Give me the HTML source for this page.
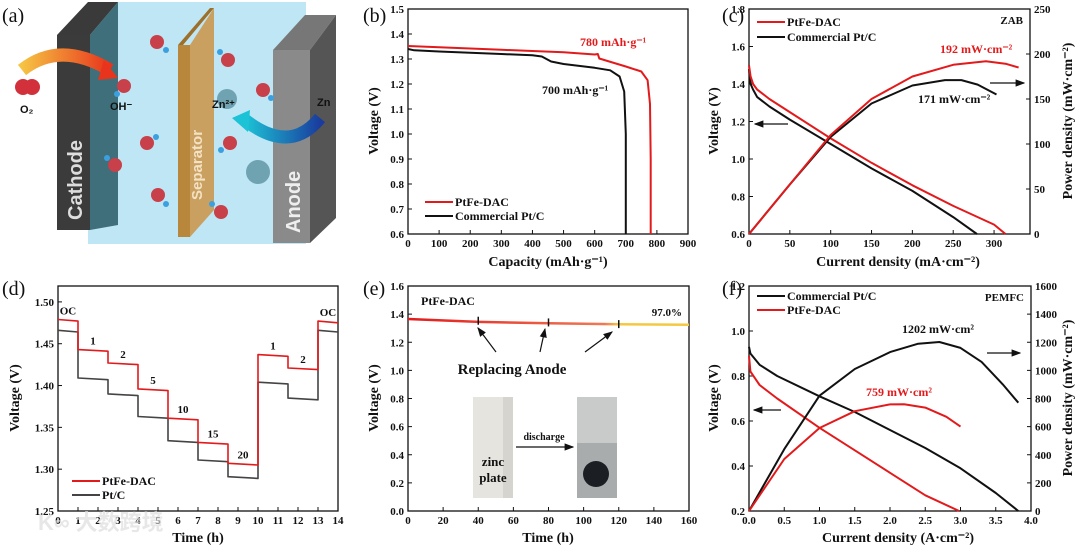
<!DOCTYPE html>
<html><head><meta charset="utf-8">
<style>
html,body{margin:0;padding:0;background:#fff;}
svg{display:block;font-family:"Liberation Serif",serif;font-weight:bold;}
text{fill:#111;}
</style></head>
<body>
<svg id="fig" width="1080" height="546" viewBox="0 0 1080 546" xmlns="http://www.w3.org/2000/svg">
<defs>
<linearGradient id="gArrow1" x1="0" x2="1"><stop offset="0" stop-color="#f6c343"/><stop offset="1" stop-color="#e8341c"/></linearGradient>
<linearGradient id="gArrow2" x1="0" x2="1"><stop offset="0" stop-color="#1cc3d6"/><stop offset="1" stop-color="#1a3c9e"/></linearGradient>
<linearGradient id="gLine" x1="0" x2="1"><stop offset="0" stop-color="#e31a1c"/><stop offset="0.7" stop-color="#f07a55"/><stop offset="0.75" stop-color="#f5c842"/><stop offset="1" stop-color="#f5c842"/></linearGradient>
<marker id="ah" markerWidth="8" markerHeight="8" refX="7" refY="4" orient="auto"><path d="M0,1 L8,4 L0,7 z" fill="#111"/></marker>
</defs>
<!-- panel a illustration -->
<g>
<text x="2" y="22" font-size="20" font-weight="normal">(a)</text>
<rect x="88" y="2" width="218" height="242" fill="#bfe6f4"/>
<polygon points="57,35 88,2 118,2 90,35" fill="#3a3a3a"/>
<rect x="57" y="35" width="33" height="195" fill="#3b3b3b"/>
<polygon points="90,35 118,2 118,225 90,230" fill="#3e6f7a"/>
<text transform="translate(82,220) rotate(-90)" font-family="Liberation Sans,sans-serif" font-size="20" fill="#eee" style="fill:#ddd">Cathode</text>
<polygon points="178,45 210,8 214,8 183,45" fill="#9c6f2a"/>
<polygon points="178,45 190,45 190,237 178,237" fill="#b8873c"/>
<polygon points="190,45 214,8 214,210 190,237" fill="#c9a060"/>
<text transform="translate(202,200) rotate(-90)" font-family="Liberation Sans,sans-serif" font-size="15" style="fill:#f3e2c3">Separator</text>
<polygon points="273,50 305,15 336,15 310,50" fill="#777"/>
<rect x="273" y="50" width="37" height="193" fill="#8a8a8a"/>
<polygon points="310,50 336,15 336,218 310,243" fill="#555"/>
<text transform="translate(300,233) rotate(-90)" font-family="Liberation Sans,sans-serif" font-size="20" style="fill:#eee">Anode</text>
<path d="M22,70 Q60,40 110,70" stroke="url(#gArrow1)" stroke-width="13" fill="none"/>
<polygon points="104,60 118,78 98,80" fill="#e8341c"/>
<path d="M320,118 Q290,155 245,120" stroke="url(#gArrow2)" stroke-width="13" fill="none"/>
<polygon points="250,110 232,118 248,132" fill="#1cc3d6"/>
<circle cx="23" cy="87" r="8" fill="#d2313b"/><circle cx="32" cy="87" r="8" fill="#d2313b"/>
<text x="20" y="113" font-family="Liberation Sans,sans-serif" font-size="11">O₂</text>
<text x="110" y="110" font-family="Liberation Sans,sans-serif" font-size="11">OH⁻</text>
<circle cx="227" cy="99" r="10" fill="#6fa3b2"/>
<text x="212" y="108" font-family="Liberation Sans,sans-serif" font-size="11">Zn²⁺</text>
<text x="317" y="106" font-family="Liberation Sans,sans-serif" font-size="11">Zn</text>
<circle cx="258" cy="172" r="12" fill="#6fa3b2"/>
<g fill="#c8404a"><circle cx="157" cy="42" r="7"/><circle cx="228" cy="60" r="7"/><circle cx="124" cy="86" r="7"/><circle cx="263" cy="90" r="7"/><circle cx="147" cy="143" r="7"/><circle cx="230" cy="143" r="7"/><circle cx="115" cy="165" r="7"/><circle cx="158" cy="195" r="7"/><circle cx="221" cy="212" r="7"/></g>
<g fill="#3aa0e0"><circle cx="166" cy="50" r="3"/><circle cx="220" cy="52" r="3"/><circle cx="117" cy="94" r="3"/><circle cx="271" cy="98" r="3"/><circle cx="156" cy="137" r="3"/><circle cx="221" cy="150" r="3"/><circle cx="107" cy="158" r="3"/><circle cx="166" cy="204" r="3"/><circle cx="212" cy="204" r="3"/></g>
</g>
<g id="charts"></g>
<text x="38" y="530" font-family="Liberation Sans,'Noto Sans CJK SC',sans-serif" font-size="22" style="fill:#ddd;opacity:0.7">K∞ 大数跨境</text>
</svg>
<script>
// ---------- data ----------
// panel b
const bTicksX=[0,100,200,300,400,500,600,700,800,900];
const bTicksY=[0.6,0.7,0.8,0.9,1.0,1.1,1.2,1.3,1.4,1.5];
const bPtFeCap=[0,100,200,300,400,500,600,610,615,700,750,770,778,780,780];
const bPtFeV=[1.352,1.347,1.342,1.337,1.332,1.327,1.318,1.32,1.302,1.27,1.25,1.215,1.12,0.9,0.6];
const bPtCCap=[0,20,100,200,300,400,430,460,500,600,650,680,695,700,700];
const bPtCV=[1.34,1.335,1.33,1.325,1.32,1.315,1.31,1.29,1.28,1.265,1.255,1.23,1.17,1.0,0.6];
// panel c
const cTicksX=[0,50,100,150,200,250,300];
const cTicksY=[0.6,0.8,1.0,1.2,1.4,1.6,1.8];
const cTicksY2=[0,50,100,150,200,250];
const cPtFeJ=[0,2,5,10,25,50,100,150,200,250,300,314];
const cPtFeV=[1.5,1.44,1.4,1.37,1.32,1.25,1.11,0.98,0.86,0.75,0.65,0.6];
const cPtCJ=[0,2,5,10,25,50,100,150,200,250,279];
const cPtCV=[1.48,1.4,1.37,1.33,1.28,1.21,1.08,0.95,0.83,0.69,0.6];
const cPtFePJ=[0,50,100,150,200,250,290,315,330];
const cPtFeP=[0,55,110,150,175,188,192,189,185];
const cPtCPJ=[0,50,100,150,200,240,260,280,303];
const cPtCP=[0,55,108,145,165,171,171,166,155];
// panel d
const dTicksX=[0,1,2,3,4,5,6,7,8,9,10,11,12,13,14];
const dTicksY=[1.25,1.30,1.35,1.40,1.45,1.50];
const dStepStart=[0,1,2.5,4,5.5,7,8.5,10,11.5,13];
const dStepLabels=["OC","1","2","5","10","15","20","1","2","OC"];
const dPtFeV=[1.479,1.443,1.427,1.396,1.361,1.332,1.307,1.437,1.421,1.477];
const dPtCV=[1.466,1.409,1.390,1.363,1.334,1.311,1.291,1.404,1.385,1.466];
// panel e
const eTicksX=[0,20,40,60,80,100,120,140,160];
const eTicksY=[0.0,0.2,0.4,0.6,0.8,1.0,1.2,1.4,1.6];
const eTime=[0,40,80,120,160];
const eV=[1.365,1.345,1.335,1.328,1.325];
const eReplace=[40,80,120];
// panel f
const fTicksX=[0.0,0.5,1.0,1.5,2.0,2.5,3.0,3.5,4.0];
const fTicksY=[0.2,0.4,0.6,0.8,1.0,1.2];
const fTicksY2=[0,200,400,600,800,1000,1200,1400,1600];
const fPtCJ=[0,0.02,0.15,0.4,1,1.5,2,2.5,3,3.5,3.82];
const fPtCV=[0.93,0.9,0.85,0.8,0.71,0.64,0.56,0.48,0.39,0.28,0.2];
const fPtFeJ=[0,0.02,0.15,0.4,1,1.5,2,2.5,2.98];
const fPtFeV=[0.89,0.82,0.76,0.7,0.57,0.47,0.37,0.27,0.2];
const fPtCPJ=[0,0.5,1,1.5,2,2.4,2.7,3,3.3,3.6,3.82];
const fPtCP=[0,440,820,1010,1130,1190,1202,1160,1060,900,770];
const fPtFePJ=[0,0.5,1,1.5,2,2.2,2.5,2.8,3];
const fPtFeP=[0,370,590,710,758,759,735,670,600];

// ---------- helpers ----------
const NS="http://www.w3.org/2000/svg";
const root=document.getElementById('charts');
function mk(tag,attrs,parent){const e=document.createElementNS(NS,tag);for(const k in attrs)e.setAttribute(k,attrs[k]);(parent||root).appendChild(e);return e;}
function scale(d0,d1,r0,r1){return v=>r0+(v-d0)/(d1-d0)*(r1-r0);}
function txt(x,y,s,size,anchor,parent,color,rot){const t=mk('text',{x:x,y:y,'font-size':size,'text-anchor':anchor||'start'},parent);if(color)t.style.fill=color;if(rot)t.setAttribute('transform','rotate(-90 '+x+' '+y+')');t.textContent=s;return t;}
function fmt(v,d){return v.toFixed(d);}
function axes(g,L,T,R,B,sx,sy,tx,ty,dx,dy,sy2,ty2){
  const box=mk('rect',{x:L,y:T,width:R-L,height:B-T,fill:'none',stroke:'#111','stroke-width':1.3},g);
  
  
  tx.forEach(v=>{const x=sx(v);mk('line',{x1:x,x2:x,y1:B,y2:B-4,stroke:'#111'},g);
    const t=txt(x,B+13,fmt(v,dx),11,'middle',g);
    
    });
  ty.forEach(v=>{const y=sy(v);mk('line',{x1:L,x2:L+4,y1:y,y2:y,stroke:'#111'},g);
    const t=txt(L-4,y+4,fmt(v,dy),11,'end',g);
    
    });
  if(sy2){ty2.forEach(v=>{const y=sy2(v);mk('line',{x1:R,x2:R-4,y1:y,y2:y,stroke:'#111'},g);
    const t=txt(R+4,y+4,String(v),11,'start',g);
    
    });}
}
function path(g,xs,ys,sx,sy,color,w){const d=xs.map((v,i)=>(i?'L':'M')+sx(v).toFixed(1)+','+sy(ys[i]).toFixed(1)).join('');return mk('path',{d:d,fill:'none',stroke:color,'stroke-width':w||2,'stroke-linejoin':'round'},g);}
function legend(g,x,y,label,color){const l=mk('line',{x1:x,x2:x+28,y1:y,y2:y,stroke:color,'stroke-width':2},g);const t=txt(x+30,y+4,label,12,'start',g);}
function arrow(g,x1,y1,x2,y2){const a=mk('line',{x1:x1,y1:y1,x2:x2,y2:y2,stroke:'#111','stroke-width':1.2,'marker-end':'url(#ah)'},g);}
const RED='#e31a1c', BLK='#111';

// ---------- panel b ----------
(function(){
const g=mk('g',{});
const L=408,R=688,T=9,B=234;const sx=scale(0,900,L,R),sy=scale(0.6,1.5,B,T);
axes(g,L,T,R,B,sx,sy,bTicksX,bTicksY,0,1);
const lb=txt(363,22,'(b)',20,'start',g);lb.style.fontWeight='normal';
const p1=path(g,bPtCCap,bPtCV,sx,sy,BLK,2);
const p2=path(g,bPtFeCap,bPtFeV,sx,sy,RED,2);
const a1=txt(580,46,'780 mAh·g⁻¹',12,'start',g,RED);
const a2=txt(542,94,'700 mAh·g⁻¹',12,'start',g);
legend(g,425,202,'PtFe-DAC',RED);legend(g,425,216,'Commercial Pt/C',BLK);
const xt=txt(548,266,'Capacity (mAh·g⁻¹)',14,'middle',g);
const yt=txt(378,121,'Voltage (V)',14,'middle',g,null,true);
})();

// ---------- panel c ----------
(function(){
const g=mk('g',{});
const L=749,R=1030,T=9,B=234;const sx=scale(0,344,L,R),sy=scale(0.6,1.8,B,T),sy2=scale(0,250,B,T);
axes(g,L,T,R,B,sx,sy,cTicksX,cTicksY,0,1,sy2,cTicksY2);
const lb=txt(722,22,'(c)',20,'start',g);lb.style.fontWeight='normal';
const p1=path(g,cPtCJ,cPtCV,sx,sy,BLK);
const p2=path(g,cPtFeJ,cPtFeV,sx,sy,RED);
const p3=path(g,cPtCPJ,cPtCP,sx,sy2,BLK);
const p4=path(g,cPtFePJ,cPtFeP,sx,sy2,RED);
legend(g,757,22,'PtFe-DAC',RED);legend(g,757,37,'Commercial Pt/C',BLK);
const z=txt(1023,24,'ZAB',11,'end',g);
const a1=txt(940,53,'192 mW·cm⁻²',12,'start',g,RED);
const a2=txt(918,103,'171 mW·cm⁻²',12,'start',g);
arrow(g,788,124,755,124);arrow(g,990,83,1024,83);
const xt=txt(898,266,'Current density (mA·cm⁻²)',14,'middle',g);
const yt=txt(718,121,'Voltage (V)',14,'middle',g,null,true);
const yt2=txt(1072,121,'Power density (mW·cm⁻²)',14,'middle',g,null,true);
})();

// ---------- panel d ----------
(function(){
const g=mk('g',{});
const L=58,R=338,T=286,B=511;const sx=scale(0,14,L,R),sy=scale(1.25,1.519,B,T);
axes(g,L,T,R,B,sx,sy,dTicksX,dTicksY,0,2);
const lb=txt(2,295,'(d)',20,'start',g);lb.style.fontWeight='normal';
function steps(vals){const xs=[],ys=[];dStepStart.forEach((s,i)=>{const e=i<dStepStart.length-1?dStepStart[i+1]:14;xs.push(s,e);ys.push(vals[i],vals[i]-0.002);});return [xs,ys];}
const [x1,y1]=steps(dPtCV);const p1=path(g,x1,y1,sx,sy,'#444',1.6);
const [x2,y2]=steps(dPtFeV);const p2=path(g,x2,y2,sx,sy,RED,1.6);
dStepLabels.forEach((s,i)=>{const e=i<dStepStart.length-1?dStepStart[i+1]:14;const t=txt(sx((dStepStart[i]+e)/2),sy(dPtFeV[i])-5,s,11,'middle',g);

});
legend(g,72,481,'PtFe-DAC',RED);legend(g,72,495,'Pt/C','#444');
const xt=txt(198,542,'Time (h)',14,'middle',g);
const yt=txt(19,398,'Voltage (V)',14,'middle',g,null,true);
})();

// ---------- panel e ----------
(function(){
const g=mk('g',{});
const L=408,R=689,T=286,B=511;const sx=scale(0,160,L,R),sy=scale(0,1.6,B,T);
axes(g,L,T,R,B,sx,sy,eTicksX,eTicksY,0,1);
const lb=txt(363,295,'(e)',20,'start',g);lb.style.fontWeight='normal';
const p=path(g,eTime,eV,sx,sy,'url(#gLine)',2.5);
eReplace.forEach(t=>{const m=mk('line',{x1:sx(t),x2:sx(t),y1:sy(1.365-t*0.0003)-4,y2:sy(1.365-t*0.0003)+4,stroke:'#111','stroke-width':1.5},g);

});
arrow(g,496,352,478,328);arrow(g,540,352,545,329);arrow(g,585,352,612,332);
const r=txt(512,374,'Replacing Anode',15,'middle',g);
const ti=txt(421,305,'PtFe-DAC',12,'start',g);
const pc=txt(682,316,'97.0%',11,'end',g);
const ph1=mk('rect',{x:473,y:397,width:40,height:101,fill:'#e6e4df'},g);
mk('rect',{x:503,y:397,width:10,height:101,fill:'#d6d4cf'},g);
const z1=txt(493,466,'zinc',13,'middle',g);
const z2=txt(493,482,'plate',13,'middle',g);
const ph2=mk('rect',{x:577,y:397,width:40,height:101,fill:'#c9cbcb'},g);
mk('rect',{x:577,y:443,width:40,height:55,fill:'#a8acad'},g);
mk('circle',{cx:596,cy:474,r:13,fill:'#1b1f24'},g);
arrow(g,516,447,573,447);
const dc=txt(544,440,'discharge',10,'middle',g);
const xt=txt(548,542,'Time (h)',14,'middle',g);
const yt=txt(378,398,'Voltage (V)',14,'middle',g,null,true);
})();

// ---------- panel f ----------
(function(){
const g=mk('g',{});
const L=749,R=1031,T=286,B=511;const sx=scale(0,4,L,R),sy=scale(0.2,1.2,B,T),sy2=scale(0,1600,B,T);
axes(g,L,T,R,B,sx,sy,fTicksX,fTicksY,1,1,sy2,fTicksY2);
const lb=txt(722,295,'(f)',20,'start',g);lb.style.fontWeight='normal';
const p1=path(g,fPtCJ,fPtCV,sx,sy,BLK);
const p2=path(g,fPtFeJ,fPtFeV,sx,sy,RED);
const p3=path(g,fPtCPJ,fPtCP,sx,sy2,BLK);
const p4=path(g,fPtFePJ,fPtFeP,sx,sy2,RED);
legend(g,757,296,'Commercial Pt/C',BLK);legend(g,757,310,'PtFe-DAC',RED);
const z=txt(1024,301,'PEMFC',11,'end',g);
const a1=txt(902,333,'1202 mW·cm²',12,'start',g);
const a2=txt(866,396,'759 mW·cm²',12,'start',g,RED);
arrow(g,781,410,754,410);arrow(g,987,353,1020,353);
const xt=txt(898,542,'Current density (A·cm⁻²)',14,'middle',g);
const yt=txt(718,398,'Voltage (V)',14,'middle',g,null,true);
const yt2=txt(1072,398,'Power density (mW·cm⁻²)',14,'middle',g,null,true);
})();
</script>
</body></html>
